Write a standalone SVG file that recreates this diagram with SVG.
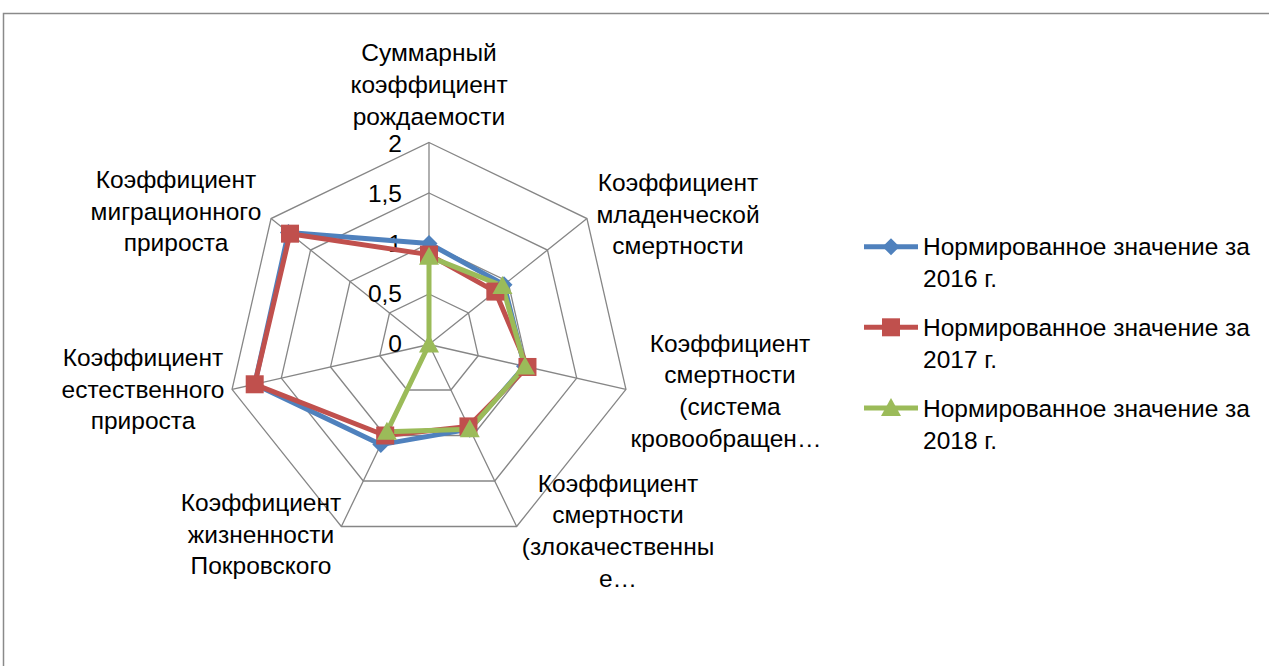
<svg xmlns="http://www.w3.org/2000/svg" xmlns:xlink="http://www.w3.org/1999/xlink" width="1269" height="666" viewBox="0 0 1269 666">
<style>
.grid{fill:none;stroke:#868686;stroke-width:1.3}
.lbl{font-family:"Liberation Sans",Arial,sans-serif;font-size:24.5px;fill:#000;text-anchor:middle}
.tick{font-family:"Liberation Sans",Arial,sans-serif;font-size:24.5px;fill:#000;text-anchor:end}
.leg{font-family:"Liberation Sans",Arial,sans-serif;font-size:24.5px;fill:#000}
.s16{fill:none;stroke:#4F81BD;stroke-width:5;stroke-linejoin:round}
.s17{fill:none;stroke:#C0504D;stroke-width:5;stroke-linejoin:round}
.s18{fill:none;stroke:#9BBB59;stroke-width:5;stroke-linejoin:round}
</style>
<defs>
<path id="dia" d="M0,-8.5 L8.5,0 L0,8.5 L-8.5,0 Z" fill="#4F81BD"/>
<rect id="sq" x="-9" y="-9" width="18" height="18" fill="#C0504D"/>
<path id="tri" d="M0,-10 L10,8 L-10,8 Z" fill="#9BBB59"/>
</defs>
<rect x="0" y="0" width="1269" height="666" fill="#fff"/>
<rect x="3.5" y="13.5" width="1290" height="700" fill="#fff" stroke="#8a8a8a" stroke-width="1.5"/>
<g id="grid">
<polygon class="grid" points="429,294 468.48,313.01 478.23,355.74 450.91,390 407.09,390 379.77,355.74 389.52,313.01"/>
<polygon class="grid" points="429,243.5 507.96,281.53 527.47,366.97 472.82,435.5 385.18,435.5 330.53,366.97 350.04,281.53"/>
<polygon class="grid" points="429,193 547.45,250.04 576.7,378.21 494.73,481 363.27,481 281.3,378.21 310.55,250.04"/>
<polygon class="grid" points="429,142.5 586.93,218.56 625.94,389.45 516.64,526.5 341.36,526.5 232.06,389.45 271.07,218.56"/>
<path class="grid" d="M429,344.5 L429,142.5 M429,344.5 L586.93,218.56 M429,344.5 L625.94,389.45 M429,344.5 L516.64,526.5 M429,344.5 L341.36,526.5 M429,344.5 L232.06,389.45 M429,344.5 L271.07,218.56"/>
</g>
<g id="ticks">
<text class="tick" x="402" y="152">2</text>
<text class="tick" x="402" y="202">1,5</text>
<text class="tick" x="402" y="252">1</text>
<text class="tick" x="402" y="302">0,5</text>
<text class="tick" x="402" y="352">0</text>
</g>
<g id="axis-labels">
<g id="lbl0"><text class="lbl" x="429" y="61">Суммарный</text><text class="lbl" x="429" y="93">коэффициент</text><text class="lbl" x="429" y="125">рождаемости</text></g>
<g id="lbl1"><text class="lbl" x="678" y="191">Коэффициент</text><text class="lbl" x="678" y="223">младенческой</text><text class="lbl" x="678" y="254">смертности</text></g>
<g id="lbl2"><text class="lbl" x="730" y="352">Коэффициент</text><text class="lbl" x="730" y="383">смертности</text><text class="lbl" x="730" y="415">(система</text><text class="lbl" x="726" y="447">кровообращен…</text></g>
<g id="lbl3"><text class="lbl" x="618" y="492">Коэффициент</text><text class="lbl" x="618" y="523">смертности</text><text class="lbl" x="618" y="555">(злокачественны</text><text class="lbl" x="618" y="587">е…</text></g>
<g id="lbl4"><text class="lbl" x="261" y="511">Коэффициент</text><text class="lbl" x="261" y="543">жизненности</text><text class="lbl" x="261" y="574">Покровского</text></g>
<g id="lbl5"><text class="lbl" x="143" y="366">Коэффициент</text><text class="lbl" x="143" y="398">естественного</text><text class="lbl" x="143" y="429">прироста</text></g>
<g id="lbl6"><text class="lbl" x="176" y="188">Коэффициент</text><text class="lbl" x="176" y="220">миграционного</text><text class="lbl" x="176" y="251">прироста</text></g>
</g>
<g id="connectors">
<polygon class="s16" points="429,243.5 504.02,284.68 524.51,366.3 469.75,429.13 380.8,444.6 254.71,384.28 288.44,232.41"/>
<polygon class="s17" points="429,254.61 495.33,291.6 527.47,366.97 468.44,426.4 385.18,435.5 254.71,384.28 290.02,233.67"/>
<polygon class="s18" points="429,256.63 502.44,285.94 525.01,366.41 469.75,429.13 386.93,431.86 429,344.5 429,344.5"/>
</g>
<g id="series-2016">
<use xlink:href="#dia" x="429" y="243.5"/><use xlink:href="#dia" x="504.02" y="284.68"/><use xlink:href="#dia" x="524.51" y="366.3"/><use xlink:href="#dia" x="469.75" y="429.13"/><use xlink:href="#dia" x="380.8" y="444.6"/><use xlink:href="#dia" x="254.71" y="384.28"/><use xlink:href="#dia" x="288.44" y="232.41"/>
</g>
<g id="series-2017">
<use xlink:href="#sq" x="429" y="254.61"/><use xlink:href="#sq" x="495.33" y="291.6"/><use xlink:href="#sq" x="527.47" y="366.97"/><use xlink:href="#sq" x="468.44" y="426.4"/><use xlink:href="#sq" x="385.18" y="435.5"/><use xlink:href="#sq" x="254.71" y="384.28"/><use xlink:href="#sq" x="290.02" y="233.67"/>
</g>
<g id="series-2018">
<use xlink:href="#tri" x="429" y="256.63"/><use xlink:href="#tri" x="502.44" y="285.94"/><use xlink:href="#tri" x="525.01" y="366.41"/><use xlink:href="#tri" x="469.75" y="429.13"/><use xlink:href="#tri" x="386.93" y="431.86"/><use xlink:href="#tri" x="429" y="344.5"/>
</g>
<g id="legend">
<g id="leg2016"><line x1="864" y1="246.7" x2="918" y2="246.7" class="s16"/><use xlink:href="#dia" x="891" y="246.7"/><text class="leg" x="923" y="255">Нормированное значение за</text><text class="leg" x="923" y="287">2016 г.</text></g>
<g id="leg2017"><line x1="864" y1="327.3" x2="918" y2="327.3" class="s17"/><use xlink:href="#sq" x="891" y="327.3"/><text class="leg" x="923" y="336">Нормированное значение за</text><text class="leg" x="923" y="368">2017 г.</text></g>
<g id="leg2018"><line x1="864" y1="408" x2="918" y2="408" class="s18"/><use xlink:href="#tri" x="891" y="408"/><text class="leg" x="923" y="417">Нормированное значение за</text><text class="leg" x="923" y="449">2018 г.</text></g>
</g>
</svg>
